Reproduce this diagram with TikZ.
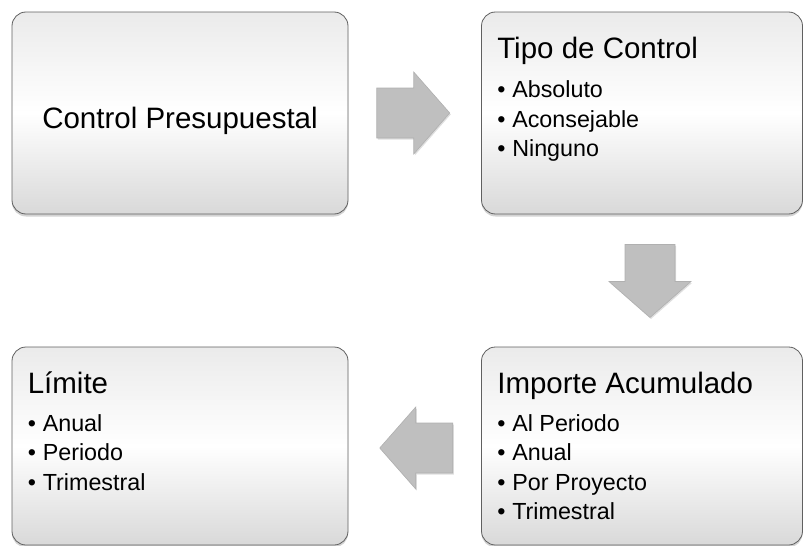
\documentclass[tikz,border=0pt]{standalone}
\usepackage{fontspec}
\setmainfont{Liberation Sans}
\usetikzlibrary{calc,shadows}

\begin{document}
\begin{tikzpicture}[x=1pt,y=-1pt]
  \tikzset{caja/.style={rounded corners=14pt,draw=gray!75!black,line width=.8pt,top color=gray!16,bottom color=gray!30,middle color=white,drop shadow={shadow xshift=0pt,shadow yshift=-2.5pt,opacity=.35},inner sep=0pt},
    titulo/.style={font=\fontsize{29.5}{35}\selectfont,inner sep=0pt,anchor=base west},
    punto/.style={font=\fontsize{23.3}{29.5}\selectfont,inner sep=0pt,anchor=base west},
    flecha/.style={fill=gray!50,draw=gray!62,line width=.6pt,line join=miter,drop shadow={shadow xshift=1pt,shadow yshift=-1.5pt,opacity=.25}}}

  \useasboundingbox (0,0) rectangle (807,546);

  \node[caja,minimum width=336pt,minimum height=202pt] at (180,113) (ctrl) {};
  \node[caja,minimum width=321pt,minimum height=202pt] at (642,113) (tipo) {};
  \node[caja,minimum width=336pt,minimum height=198pt] at (180,446) (limite) {};
  \node[caja,minimum width=321pt,minimum height=198pt] at (642,446) (importe) {};

  \node[titulo,anchor=base] (ctrlT) at ($(ctrl.center)+(0,15)$) {Control Presupuestal};

  \node[titulo] (tipoT) at ($(tipo.north west)+(16,47)$) {Tipo de Control};
  \foreach \t [count=\i] in {Absoluto,Aconsejable,Ninguno}
    \node[punto] (tipo\i) at ($(tipoT.base west)+(0,{39+29.5*(\i-1)})$) {\makebox[15pt][l]{\textbullet}\t};

  \node[titulo] (importeT) at ($(importe.north west)+(16,47)$) {Importe Acumulado};
  \foreach \t [count=\i] in {Al Periodo,Anual,Por Proyecto,Trimestral}
    \node[punto] (importe\i) at ($(importeT.base west)+(0,{38+29.3*(\i-1)})$) {\makebox[15pt][l]{\textbullet}\t};

  \node[titulo] (limiteT) at ($(limite.north west)+(16,47)$) {Límite};
  \foreach \t [count=\i] in {Anual,Periodo,Trimestral}
    \node[punto] (limite\i) at ($(limiteT.base west)+(0,{38+29.3*(\i-1)})$) {\makebox[15pt][l]{\textbullet}\t};

  \coordinate (f1) at ($(ctrl.east)!.5!(tipo.west)+(-2,0)$);
  \coordinate (f2) at ($(tipo.south)!.5!(importe.north)+(8,0)$);
  \coordinate (f3) at ($(importe.west)!.5!(limite.east)+(2,2)$);

  \draw[flecha] (f1) ++(-36,-25) -- ++(37,0) -- ++(0,-16) -- ++(36,41) -- ++(-36,41) -- ++(0,-16) -- ++(-37,0) -- cycle;
  \draw[flecha] (f2) ++(-25,-36) -- ++(50,0) -- ++(0,37) -- ++(16,0) -- ++(-41,36) -- ++(-41,-36) -- ++(16,0) -- cycle;
  \draw[flecha] (f3) ++(36,-25) -- ++(-37,0) -- ++(0,-16) -- ++(-36,41) -- ++(36,41) -- ++(0,-16) -- ++(37,0) -- cycle;
\end{tikzpicture}
\end{document}
